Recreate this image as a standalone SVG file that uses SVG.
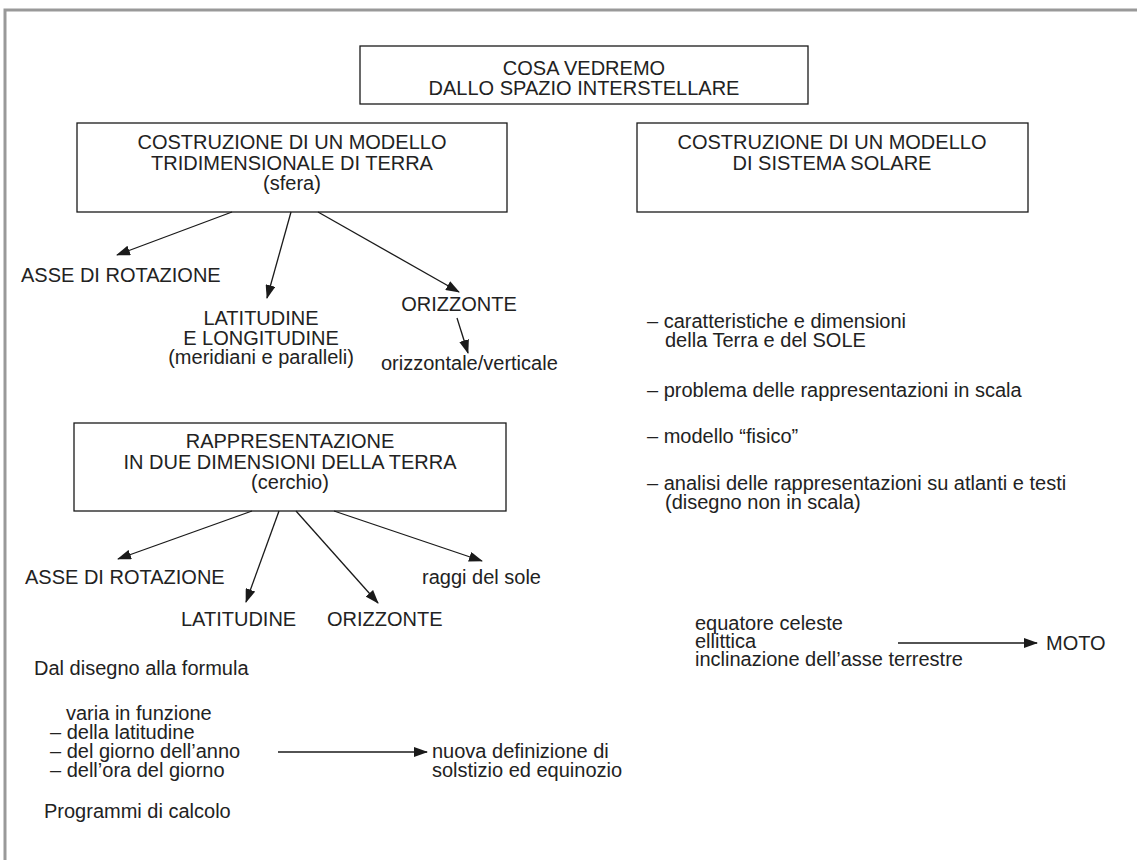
<svg xmlns="http://www.w3.org/2000/svg" width="1137" height="860" viewBox="0 0 1137 860">
<defs>
<marker id="ah" markerUnits="userSpaceOnUse" markerWidth="14" markerHeight="10" refX="13" refY="5" orient="auto">
<path d="M0,0 L14,5 L0,10 Z" fill="#1a1a1a"/>
</marker>
<style>
text{font-family:"Liberation Sans",Arial,sans-serif;font-size:20px;fill:#222}
.c{text-anchor:middle}
.box{fill:#fff;stroke:#1a1a1a;stroke-width:1.3}
.ln{stroke:#1a1a1a;stroke-width:1.3;fill:none;marker-end:url(#ah)}
</style>
</defs>
<rect width="1137" height="860" fill="#fff"/>
<path d="M5,860 V10 H1137" fill="none" stroke="#999" stroke-width="3"/>
<g id="title">
<rect class="box" x="360" y="46" width="448" height="58"/>
<text class="c" x="584" y="75">COSA VEDREMO<tspan x="584" dy="20">DALLO SPAZIO INTERSTELLARE</tspan></text>
</g>
<g id="modello3d">
<rect class="box" x="77" y="123" width="430" height="89"/>
<text class="c" x="292" y="149">COSTRUZIONE DI UN MODELLO<tspan x="292" dy="21">TRIDIMENSIONALE DI TERRA</tspan><tspan x="292" dy="20">(sfera)</tspan></text>
</g>
<g id="sistemasolare">
<rect class="box" x="637" y="123" width="391" height="89"/>
<text class="c" x="832" y="149">COSTRUZIONE DI UN MODELLO<tspan x="832" dy="21">DI SISTEMA SOLARE</tspan></text>
</g>
<g id="asse1"><text x="21" y="282">ASSE DI ROTAZIONE</text></g>
<g id="latlong">
<text class="c" x="261" y="325">LATITUDINE<tspan x="261" dy="20">E LONGITUDINE</tspan><tspan x="261" dy="19">(meridiani e paralleli)</tspan></text>
</g>
<g id="orizzonte1"><text class="c" x="459" y="311">ORIZZONTE</text></g>
<g id="orizvert"><text x="381" y="370">orizzontale/verticale</text></g>
<g id="rappr2d">
<rect class="box" x="74" y="423" width="432" height="88"/>
<text class="c" x="290" y="448">RAPPRESENTAZIONE<tspan x="290" dy="21">IN DUE DIMENSIONI DELLA TERRA</tspan><tspan x="290" dy="20">(cerchio)</tspan></text>
</g>
<g id="asse2"><text x="25" y="584">ASSE DI ROTAZIONE</text></g>
<g id="latitudine2"><text x="181" y="626">LATITUDINE</text></g>
<g id="orizzonte2"><text x="327" y="626">ORIZZONTE</text></g>
<g id="raggi"><text x="422" y="584">raggi del sole</text></g>
<g id="formula">
<text x="34" y="675">Dal disegno alla formula</text>
<text x="50" y="720"><tspan x="66">varia in funzione</tspan><tspan x="50" dy="19">– della latitudine</tspan><tspan x="50" dy="19">– del giorno dell’anno</tspan><tspan x="50" dy="19">– dell’ora del giorno</tspan></text>
</g>
<g id="definizione">
<text x="432" y="758">nuova definizione di<tspan x="432" dy="19">solstizio ed equinozio</tspan></text>
</g>
<g id="programmi"><text x="44" y="818">Programmi di calcolo</text></g>
<g id="lista">
<text x="647" y="328">– caratteristiche e dimensioni<tspan x="665" dy="19">della Terra e del SOLE</tspan></text>
<text x="647" y="397">– problema delle rappresentazioni in scala</text>
<text x="647" y="443">– modello “fisico”</text>
<text x="647" y="490">– analisi delle rappresentazioni su atlanti e testi<tspan x="665" dy="19">(disegno non in scala)</tspan></text>
</g>
<g id="equatore">
<text x="695" y="630">equatore celeste<tspan x="695" dy="18">ellittica</tspan><tspan x="695" dy="18">inclinazione dell’asse terrestre</tspan></text>
</g>
<g id="moto"><text x="1046" y="650">MOTO</text></g>
<g id="connectors">
<line class="ln" x1="232" y1="212" x2="117" y2="255"/>
<line class="ln" x1="291" y1="212" x2="267" y2="298"/>
<line class="ln" x1="318" y1="212" x2="459" y2="292"/>
<line class="ln" x1="457" y1="318" x2="468" y2="353"/>
<line class="ln" x1="252" y1="511" x2="118" y2="559"/>
<line class="ln" x1="279" y1="511" x2="246" y2="602"/>
<line class="ln" x1="296" y1="511" x2="378" y2="603"/>
<line class="ln" x1="334" y1="511" x2="482" y2="561"/>
<line class="ln" x1="278" y1="752" x2="427" y2="752"/>
<line class="ln" x1="898" y1="643" x2="1037" y2="643"/>
</g>
</svg>
